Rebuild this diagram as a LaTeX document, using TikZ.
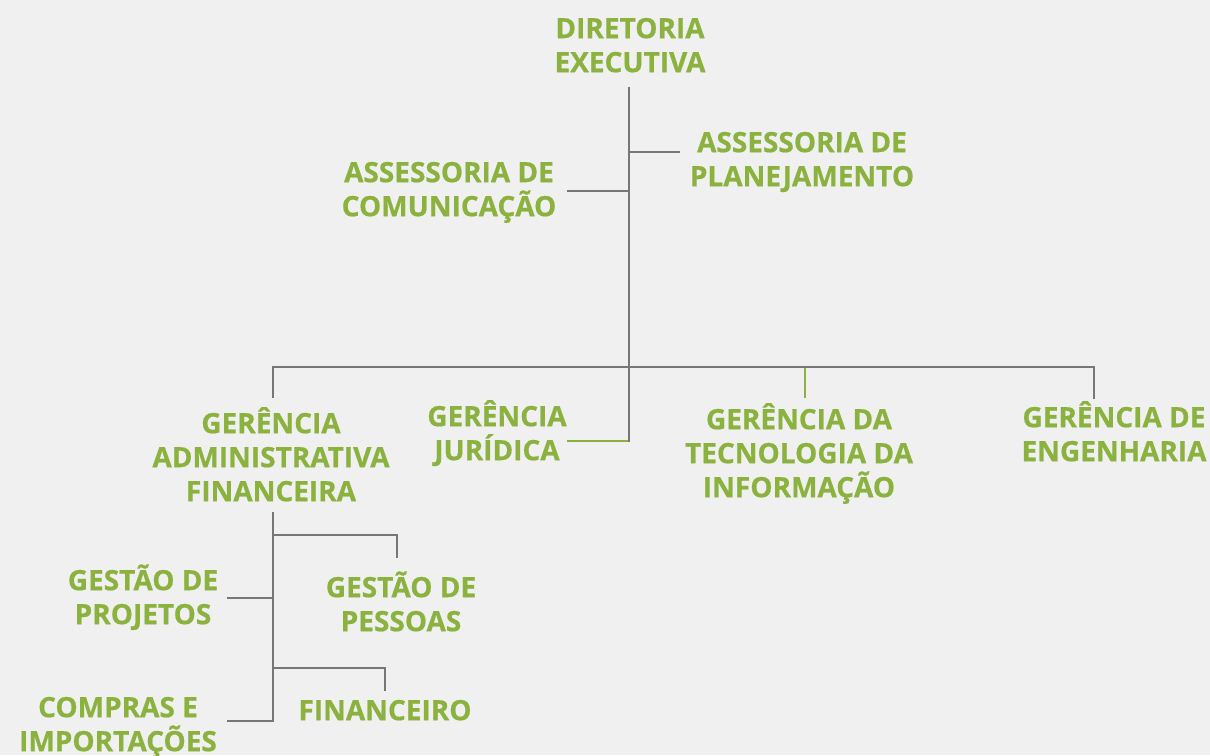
\documentclass[tikz,border=0pt]{standalone}
\usepackage{fontspec}
\setmainfont{Open Sans}[BoldFeatures={FakeBold=0.6}]
\definecolor{leaf}{HTML}{8BB23F}
\definecolor{wire}{HTML}{777777}
\definecolor{paper}{HTML}{F0F0F0}
\newcommand\lift{\rule{0pt}{30pt}}

\begin{document}
\begin{tikzpicture}[
        x=1pt, y=-1pt,
        unit/.style = {
            text=leaf, font=\fontsize{28}{34}\selectfont\bfseries,
            align=center, inner sep=0pt, anchor=north},
        link/.style = {draw=wire, line width=2.8pt},
        live/.style = {draw=leaf, line width=2.8pt},
]
        \fill[paper] (0,0) rectangle (1210,755);
        \useasboundingbox (0,0) rectangle (1210,755);

        \node[unit] (dir)  at (630,8)    {\lift DIRETORIA\\EXECUTIVA};
        \node[unit] (plan) at (802,122)  {\lift ASSESSORIA DE\\PLANEJAMENTO};
        \node[unit] (com)  at (449,152)  {\lift ASSESSORIA DE\\COMUNICAÇÃO};
        \node[unit] (adm)  at (271,403)  {\lift GERÊNCIA\\ADMINISTRATIVA\\FINANCEIRA};
        \node[unit] (jur)  at (497,396)  {\lift GERÊNCIA\\JURÍDICA};
        \node[unit] (ti)   at (799,399)  {\lift GERÊNCIA DA\\TECNOLOGIA DA\\INFORMAÇÃO};
        \node[unit] (eng)  at (1114,397) {\lift GERÊNCIA DE\\ENGENHARIA};
        \node[unit] (proj) at (143,560)  {\lift GESTÃO DE\\PROJETOS};
        \node[unit] (pess) at (401,567)  {\lift GESTÃO DE\\PESSOAS};
        \node[unit] (fin)  at (385,690)  {\lift FINANCEIRO};
        \node[unit] (comp) at (118,687)  {\lift COMPRAS E\\IMPORTAÇÕES};

        % trunk and its ends
        \coordinate (top)    at (629,87);
        \coordinate (foot)   at (629,441);
        \coordinate (plan-e) at (680,152);
        \coordinate (com-e)  at (567,191);
        \coordinate (jur-e)  at (567,441);
        \coordinate (busl)   at (273,367);
        \coordinate (adm-e)  at (273,398);
        \coordinate (eng-e)  at (1094,399);
        \coordinate (ti-e)   at (805,398);
        \coordinate (subtop) at (273,512);
        \coordinate (subend) at (273,721);
        \coordinate (pess-e) at (397,558);
        \coordinate (fin-e)  at (385,691);
        \coordinate (proj-e) at (227,598);
        \coordinate (comp-e) at (227,721);

        % upper level
        \draw [link] (top) -- ([yshift=-1.4pt]foot);
        \draw [link] (top |- plan-e) -- (plan-e);
        \draw [link] (com-e) -- (top |- com-e);
        \draw [live] ([xshift=-1.4pt]foot) -- (jur-e);

        % managers
        \draw [link] (adm-e) -- (busl) -| (eng-e);
        \draw [live] (ti-e) -- ([yshift=-1.4pt]ti-e |- busl);

        % financial sub-units
        \draw [link] (subtop) -- (subend) -- (comp-e);
        \draw [link] (subtop |- 0,535) -| (pess-e);
        \draw [link] (subtop |- proj-e) -- (proj-e);
        \draw [link] (subtop |- 0,668) -| (fin-e);
\end{tikzpicture}
\end{document}
